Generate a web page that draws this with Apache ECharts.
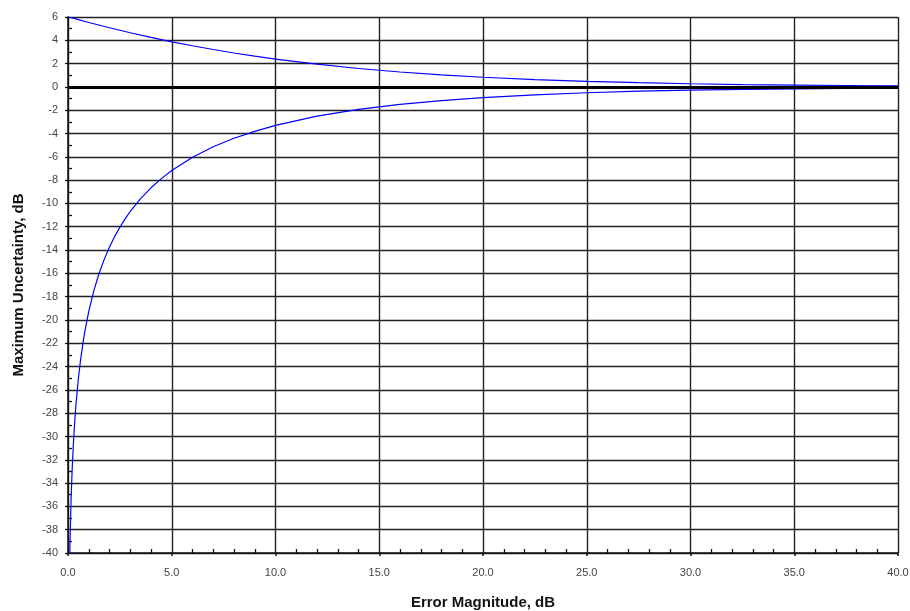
<!DOCTYPE html>
<html>
<head>
<meta charset="utf-8">
<script src="https://cdn.jsdelivr.net/npm/echarts@6/dist/echarts.min.js"></script>
<style>html,body{margin:0;padding:0;background:#fff}#c{width:910px;height:611px}</style>
</head>
<body>
<div id="c"></div>
<script>
// Error magnitude (dB) sample points
const upperX = [0, 0.1, 0.2, 0.5, 1, 2, 3, 4, 5, 6, 7, 8, 9, 10, 12, 14, 16, 18, 20, 22.5, 25, 27.5, 30, 32.5, 35, 37.5, 40];
const upperY = [6.02, 5.97, 5.92, 5.77, 5.53, 5.08, 4.65, 4.25, 3.87, 3.53, 3.21, 2.91, 2.64, 2.39, 1.95, 1.58, 1.28, 1.03, 0.83, 0.63, 0.48, 0.36, 0.27, 0.20, 0.15, 0.12, 0.09];
const lowerX = [0.08, 0.1, 0.15, 0.2, 0.25, 0.3, 0.35, 0.4, 0.5, 0.6, 0.75, 0.8, 1, 1.25, 1.5, 1.75, 2, 2.25, 2.5, 2.75, 3, 3.5, 4, 4.5, 5, 6, 7, 8, 9, 10, 12, 14, 16, 18, 20, 22.5, 25, 27.5, 30, 32.5, 35, 37.5, 40];
const lowerY = [-40.75, -38.82, -35.33, -32.86, -30.94, -29.38, -28.07, -26.93, -25.05, -23.51, -21.65, -21.11, -19.27, -17.46, -15.99, -14.78, -13.74, -12.83, -12.04, -11.33, -10.69, -9.59, -8.66, -7.87, -7.18, -6.04, -5.14, -4.41, -3.81, -3.30, -2.51, -1.93, -1.50, -1.17, -0.92, -0.68, -0.50, -0.37, -0.28, -0.21, -0.16, -0.12, -0.09];
const xTicks = ['0.0', '5.0', '10.0', '15.0', '20.0', '25.0', '30.0', '35.0', '40.0'];
const xTitle = 'Error Magnitude, dB';
const yTitle = 'Maximum Uncertainty, dB';

const upperData = upperX.map((x, i) => [x, upperY[i]]);
const lowerData = lowerX.map((x, i) => [x, lowerY[i]]);
const font = 'Liberation Sans, Arial, sans-serif';

const chart = echarts.init(document.getElementById('c'), null, {renderer: 'canvas'});
chart.setOption({
  animation: false,
  backgroundColor: '#ffffff',
  grid: {left: 68, right: 12, top: 17, bottom: 58, containLabel: false, outerBoundsMode: 'none'},
  xAxis: [{
    type: 'value', min: 0, max: 40, interval: 5, position: 'bottom',
    name: xTitle, nameLocation: 'middle', nameGap: 42,
    nameTextStyle: {fontFamily: font, fontSize: 15, fontWeight: 'bold', color: '#111'},
    axisLine: {show: true, onZero: false, lineStyle: {color: '#111', width: 1.5}},
    axisTick: {show: true, length: 3, lineStyle: {color: '#111', width: 1.5}},
    axisLabel: {fontFamily: font, fontSize: 11, color: '#444', margin: 14,
      formatter: v => xTicks[Math.round(v / 5)]},
    splitLine: {show: true, lineStyle: {color: '#222', width: 1.4}}
  }, {
    type: 'value', min: 0, max: 40, interval: 5, gridIndex: 0, position: 'bottom',
    axisLine: {show: false, onZero: false},
    axisTick: {show: false, inside: true},
    minorTick: {show: true, splitNumber: 5, length: 4, lineStyle: {color: '#111', width: 1.3}},
    axisLabel: {show: false},
    splitLine: {show: false}
  }],
  yAxis: [{
    type: 'value', min: -40, max: 6, interval: 2, position: 'left',
    name: yTitle, nameLocation: 'middle', nameGap: 42,
    nameTextStyle: {fontFamily: font, fontSize: 15, fontWeight: 'bold', color: '#111'},
    axisLine: {show: true, lineStyle: {color: '#111', width: 1.5}},
    axisTick: {show: true, length: 3, lineStyle: {color: '#111', width: 1.3}},
    axisLabel: {fontFamily: font, fontSize: 11, color: '#444', margin: 10},
    splitLine: {show: true, lineStyle: {color: '#222', width: 1.4}}
  }, {
    type: 'value', min: -40, max: 6, interval: 2, position: 'left',
    axisLine: {show: false},
    axisTick: {show: false, inside: true},
    minorTick: {show: true, splitNumber: 2, length: 4, lineStyle: {color: '#111', width: 1.3}},
    axisLabel: {show: false},
    splitLine: {show: false}
  }],
  series: [{
    type: 'line', data: upperData, showSymbol: false, symbol: 'none',
    lineStyle: {color: '#0000ff', width: 1.2}, clip: true,
    markLine: {
      silent: true, symbol: 'none', label: {show: false},
      lineStyle: {color: '#000', width: 3, type: 'solid'},
      data: [{yAxis: 0}]
    }
  }, {
    type: 'line', data: lowerData, showSymbol: false, symbol: 'none',
    lineStyle: {color: '#0000ff', width: 1.2}, clip: true
  }]
});
</script>
</body>
</html>
